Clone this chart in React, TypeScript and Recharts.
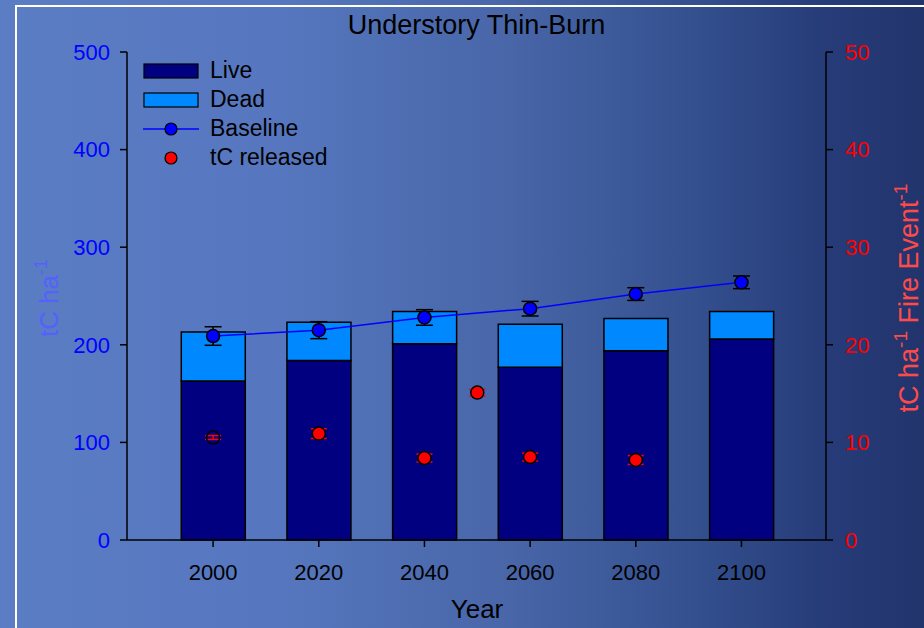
import React from 'react';
import {
    ComposedChart,
    Bar,
    Line,
    Scatter,
    ErrorBar,
    XAxis,
    YAxis
} from 'recharts';

// values
const YEARS = [2000, 2020, 2040, 2060, 2080, 2100];
const LIVE = [163, 184, 201, 177, 194, 206];
const DEAD = [50, 39, 33, 44, 33, 28];
const BASELINE = [209, 215, 228, 237, 252, 264];
const BASELINE_ERR = [9.5, 8.7, 8, 7.5, 6.5, 6.5];

const RELEASE_YEARS = [2000, 2020, 2040, 2050, 2060, 2080];
const RELEASED = [10.5, 10.9, 8.4, 15.1, 8.5, 8.2];
const RELEASED_ERR = [0.2, 0.5, 0.4, 0.35, 0.4, 0.45];

const LEFT_TICKS = [0, 100, 200, 300, 400, 500];
const RIGHT_TICKS = [0, 10, 20, 30, 40, 50];

const barRows = YEARS.map((year, i) => ({
    year,
    live: LIVE[i],
    dead: DEAD[i],
    baseline: BASELINE[i],
    baseErr: BASELINE_ERR[i]
}));

const releasedRows = RELEASE_YEARS.map((year, i) => ({
    year,
    released: RELEASED[i],
    relErr: RELEASED_ERR[i]
}));

const FONT = '"Liberation Sans", Arial, sans-serif';
const X_DOMAIN = [1983.7, 2116];

const BlueDot = (props: any) => {
    const { cx, cy } = props;
    if (cx == null || cy == null) return null;
    return <circle cx={cx} cy={cy} r={6.5} fill="#0000FF" stroke="#000" strokeWidth={1.5} />;
};

const RedDot = (props: any) => {
    const { cx, cy, index } = props;
    if (cx == null || cy == null) return null;
    // the first marker shows no fill in the original
    return <circle cx={cx} cy={cy} r={6.5} fill={index === 0 ? 'none' : '#FF0000'} stroke="#000" strokeWidth={1.5} />;
};

const LeftLabel = () => (
    <text x={58} y={298} transform="rotate(-90, 58, 298)" textAnchor="middle"
        fill="#5560FF" fontSize={26} fontFamily={FONT}>
        tC ha<tspan dy={-11} fontSize={18}>-1</tspan>
    </text>
);

const RightLabel = () => (
    <text x={918} y={298} transform="rotate(-90, 918, 298)" textAnchor="middle"
        fill="#FF4A4A" fontSize={27} fontFamily={FONT}>
        tC ha<tspan dy={-11} fontSize={19}>-1</tspan>
        <tspan dy={11} fontSize={27}> Fire Event</tspan>
        <tspan dy={-11} fontSize={19}>-1</tspan>
    </text>
);

const YearLabel = () => (
    <text x={477} y={618} textAnchor="middle" fill="#000" fontSize={26} fontFamily={FONT}>
        Year
    </text>
);

const LegendBox = () => {
    const row = { display: 'flex', alignItems: 'center', height: 29 };
    const txt = { fontSize: 23, color: '#000', marginLeft: 11, fontFamily: FONT };
    return (
        <div style={{ position: 'absolute', left: 143, top: 56 }}>
            <div style={row}>
                <svg width={56} height={16}><rect x={1} y={1} width={54} height={14} fill="#000080" stroke="#000" strokeWidth={1.2} /></svg>
                <span style={txt}>Live</span>
            </div>
            <div style={row}>
                <svg width={56} height={16}><rect x={1} y={1} width={54} height={14} fill="#0088FF" stroke="#000" strokeWidth={1.2} /></svg>
                <span style={txt}>Dead</span>
            </div>
            <div style={row}>
                <svg width={56} height={16}>
                    <line x1={0} y1={8} x2={56} y2={8} stroke="#0000FF" strokeWidth={1.5} />
                    <circle cx={28} cy={8} r={6} fill="#0000FF" stroke="#000" strokeWidth={1.2} />
                </svg>
                <span style={txt}>Baseline</span>
            </div>
            <div style={row}>
                <svg width={56} height={16}>
                    <circle cx={28} cy={8} r={6} fill="#FF0000" stroke="#000" strokeWidth={1.2} />
                </svg>
                <span style={txt}>tC released</span>
            </div>
        </div>
    );
};

export default function App() {
    return (
        <div style={{
            position: 'fixed', left: 0, top: 0, width: 924, height: 628, overflow: 'hidden',
            background: 'linear-gradient(90deg, #5b7dc4 0%, #5677bf 30%, #4866a8 55%, #34508f 75%, #263b78 90%, #22346c 100%)',
            fontFamily: FONT
        }}>
            <div style={{
                position: 'absolute', left: 15, top: 5, width: 940, height: 660,
                borderLeft: '2px solid #fff', borderTop: '2px solid #fff'
            }} />
            <div style={{
                position: 'absolute', left: 127, width: 699, top: 10, textAlign: 'center',
                fontSize: 27, lineHeight: '31px', color: '#000'
            }}>
                Understory Thin-Burn
            </div>
            <ComposedChart
                width={924}
                height={628}
                data={barRows}
                margin={{ top: 52, right: 0, bottom: 0, left: 0 }}
                style={{ position: 'absolute', left: 0, top: 0 }}
            >
                <XAxis
                    dataKey="year"
                    type="number"
                    domain={X_DOMAIN}
                    ticks={YEARS}
                    height={88}
                    tickSize={7}
                    tickMargin={17}
                    axisLine={{ stroke: '#000', strokeWidth: 1.5 }}
                    tickLine={{ stroke: '#000', strokeWidth: 1.5 }}
                    tick={{ fill: '#000', fontSize: 22, fontFamily: FONT }}
                    label={{ content: YearLabel }}
                />
                <XAxis
                    xAxisId="top"
                    dataKey="year"
                    orientation="top"
                    type="number"
                    domain={X_DOMAIN}
                    height={0}
                    tick={false}
                    tickLine={false}
                    axisLine={{ stroke: '#000', strokeWidth: 1.5 }}
                />
                <YAxis
                    yAxisId="left"
                    domain={[0, 500]}
                    ticks={LEFT_TICKS}
                    width={127}
                    tickSize={7}
                    tickMargin={10}
                    axisLine={{ stroke: '#000', strokeWidth: 1.5 }}
                    tickLine={{ stroke: '#000', strokeWidth: 1.5 }}
                    tick={{ fill: '#0000FF', fontSize: 22, fontFamily: FONT }}
                    label={{ content: LeftLabel }}
                />
                <YAxis
                    yAxisId="right"
                    orientation="right"
                    domain={[0, 50]}
                    ticks={RIGHT_TICKS}
                    width={98}
                    tickSize={7}
                    tickMargin={12}
                    axisLine={{ stroke: '#000', strokeWidth: 1.5 }}
                    tickLine={{ stroke: '#000', strokeWidth: 1.5 }}
                    tick={{ fill: '#FF0000', fontSize: 22, fontFamily: FONT }}
                    label={{ content: RightLabel }}
                />
                <Bar dataKey="live" name="Live" stackId="a" yAxisId="left" barSize={64}
                    fill="#000080" stroke="#000" strokeWidth={1.5} isAnimationActive={false} />
                <Bar dataKey="dead" name="Dead" stackId="a" yAxisId="left" barSize={64}
                    fill="#0088FF" stroke="#000" strokeWidth={1.5} isAnimationActive={false} />
                <Line dataKey="baseline" name="Baseline" yAxisId="left" stroke="#0000FF" strokeWidth={1.5}
                    dot={BlueDot} activeDot={false} isAnimationActive={false}>
                    <ErrorBar dataKey="baseErr" width={8.5} stroke="#000" strokeWidth={1.5} direction="y" />
                </Line>
                <Scatter data={releasedRows} dataKey="released" name="tC released" yAxisId="right" xAxisId="top"
                    shape={RedDot} isAnimationActive={false}>
                    <ErrorBar dataKey="relErr" width={8} stroke="#FF0000" strokeWidth={1.5} direction="y" />
                </Scatter>
            </ComposedChart>
            <LegendBox />
        </div>
    );
}
